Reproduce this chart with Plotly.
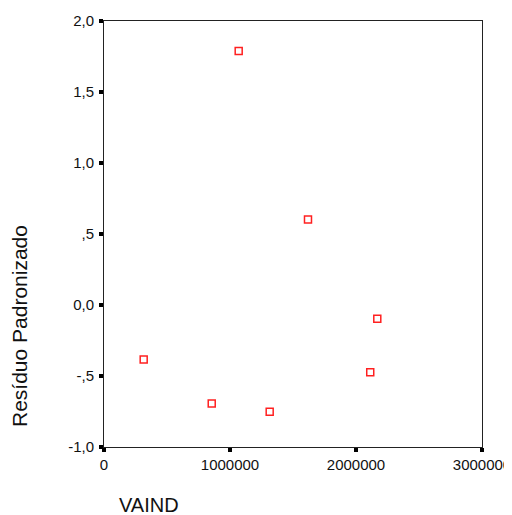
import plotly.graph_objects as go

vaind = [315000, 855000, 1315000, 2113000, 2169000, 1069000, 1619000]
residuo = [-0.384, -0.694, -0.752, -0.474, -0.096, 1.789, 0.602]

y_tickvals = [2.0, 1.5, 1.0, 0.5, 0.0, -0.5, -1.0]
y_ticktext = ["2,0", "1,5", "1,0", ",5", "0,0", "-,5", "-1,0"]
x_tickvals = [0, 1000000, 2000000, 3000000]
x_ticktext = ["0", "1000000", "2000000", "3000000"]

# page body has an 8px margin; lay the figure out in page pixels minus 8
OFF = 8
W, H = 512 - OFF, 515 - OFF
L = 104 - OFF
T = 21 - OFF
R = W - (482 - OFF)
B = H - (447 - OFF)
pw = W - L - R
ph = H - T - B

def px_to_paper(px, py):
    return (px - OFF - L) / pw, 1 - (py - OFF - T) / ph

fig = go.Figure()
fig.add_trace(go.Scatter(
    x=vaind, y=residuo, mode="markers",
    marker=dict(symbol="square-open", size=7, color="#ff2020", line=dict(width=1.5)),
    showlegend=False,
))

font_family = "Arial, Liberation Sans, sans-serif"
ax, ay = px_to_paper(117, 505)
bx, by = px_to_paper(19, 326)
fig.update_layout(
    width=W, height=H,
    margin=dict(l=L, r=R, t=T, b=B, autoexpand=False),
    paper_bgcolor="white", plot_bgcolor="white",
    font=dict(family=font_family, size=15, color="#111111"),
    xaxis=dict(
        range=[0, 3000000], tickvals=x_tickvals, ticktext=x_ticktext,
        showgrid=False, zeroline=False, showline=True, linecolor="#222222",
        linewidth=1, mirror=True, ticks="outside", ticklen=4, tickwidth=4,
        tickcolor="#000000", tickfont=dict(size=15), automargin=False,
    ),
    yaxis=dict(
        range=[-1.0, 2.0], tickvals=y_tickvals, ticktext=y_ticktext,
        showgrid=False, zeroline=False, showline=True, linecolor="#222222",
        linewidth=1, mirror=True, ticks="outside", ticklen=4, tickwidth=4,
        tickcolor="#000000", tickfont=dict(size=15), automargin=False,
        ticklabelstandoff=2,
    ),
    annotations=[
        dict(text="VAIND", x=ax, y=ay, xref="paper", yref="paper",
             xanchor="left", yanchor="middle",
             showarrow=False, font=dict(size=20)),
        dict(text="Resíduo Padronizado", textangle=-90, x=bx, y=by,
             xref="paper", yref="paper", xanchor="center", yanchor="middle",
             showarrow=False, font=dict(size=21)),
    ],
)

fig.write_html("out.html")
